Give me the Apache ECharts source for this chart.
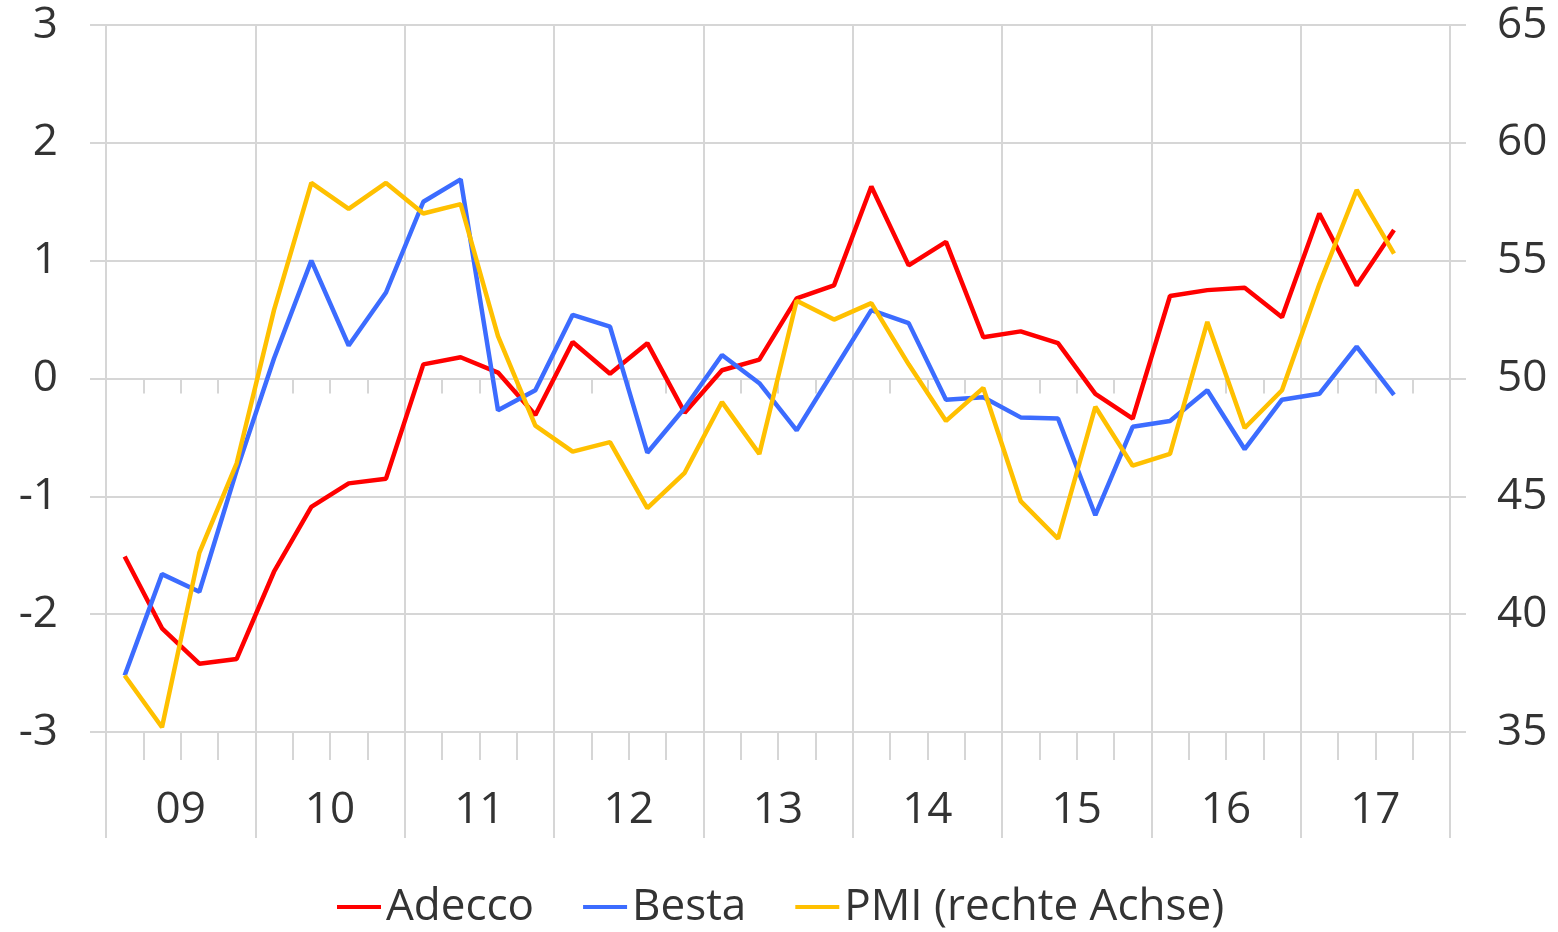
<!DOCTYPE html>
<html>
<head>
<meta charset="utf-8">
<title>Adecco, Besta, PMI</title>
<script src="https://cdn.jsdelivr.net/npm/echarts@6/dist/echarts.min.js"></script>
<style>
  html, body { margin: 0; padding: 0; background: #ffffff; }
  #chart { width: 1558px; height: 932px; }
</style>
</head>
<body>
<div id="chart"></div>
<script>
// Year labels of the category axis (one band per year, four quarters each)
const years = ['09', '10', '11', '12', '13', '14', '15', '16', '17'];
const quarters = [];
years.forEach(function (y) { for (let q = 1; q <= 4; q++) quarters.push(y + ' Q' + q); });

// Quarterly values, 2009 Q1 – 2017 Q3
const adecco = [-1.51, -2.12, -2.42, -2.38, -1.64, -1.09, -0.89, -0.85, 0.12, 0.18,
                0.05, -0.31, 0.31, 0.04, 0.30, -0.29, 0.07, 0.16, 0.68, 0.79,
                1.63, 0.96, 1.16, 0.35, 0.40, 0.30, -0.13, -0.34, 0.70, 0.75,
                0.77, 0.52, 1.40, 0.79, 1.26];
const besta = [-2.52, -1.66, -1.81, -0.78, 0.17, 1.00, 0.28, 0.73, 1.50, 1.69,
               -0.27, -0.10, 0.54, 0.44, -0.63, -0.25, 0.20, -0.04, -0.44, 0.07,
               0.58, 0.47, -0.18, -0.16, -0.33, -0.34, -1.16, -0.41, -0.36, -0.10,
               -0.60, -0.18, -0.13, 0.27, -0.14];
const pmi = [37.4, 35.2, 42.6, 46.4, 52.9, 58.3, 57.2, 58.3, 57.0, 57.4,
             51.8, 48.0, 46.9, 47.3, 44.5, 46.0, 49.0, 46.8, 53.3, 52.5,
             53.2, 50.6, 48.2, 49.6, 44.8, 43.2, 48.8, 46.3, 46.8, 52.4,
             47.9, 49.5, 54.0, 58.0, 55.3];

const seriesNames = ['Adecco', 'Besta', 'PMI (rechte Achse)'];
const seriesColors = ['#ff0000', '#3c6cff', '#ffc000'];

const GRID_COLOR = '#d6d6d6';
const TEXT_COLOR = '#333333';
const FONT = '"Open Sans", "Noto Sans", sans-serif';
const LINE_WIDTH = 4.5;

const chart = echarts.init(document.getElementById('chart'), null, { renderer: 'canvas' });

const gridLine = { lineStyle: { color: GRID_COLOR, width: 2 } };

chart.setOption({
  animation: false,
  backgroundColor: '#ffffff',
  textStyle: { fontFamily: FONT },
  grid: { left: 106, right: 108, top: 25, bottom: 200, containLabel: false },
  legend: {
    data: seriesNames,
    left: 337,
    top: 885,
    padding: 0,
    icon: 'rect',
    itemWidth: 44,
    itemHeight: 4,
    itemGap: 49,
    textStyle: { fontSize: 44, color: TEXT_COLOR, fontFamily: FONT, lineHeight: 44 }
  },
  xAxis: [
    {
      // quarter ticks along the zero line
      type: 'category',
      data: quarters,
      boundaryGap: true,
      position: 'bottom',
      axisLine: { show: true, onZero: true, lineStyle: { color: GRID_COLOR, width: 2 } },
      axisTick: { show: true, interval: 0, length: 15, lineStyle: { color: GRID_COLOR, width: 2 } },
      axisLabel: { show: false },
      splitLine: { show: false }
    },
    {
      // quarter ticks along the bottom edge
      type: 'category',
      data: quarters,
      boundaryGap: true,
      position: 'bottom',
      axisLine: { show: false, onZero: false },
      axisTick: { show: true, interval: 0, length: 28, lineStyle: { color: GRID_COLOR, width: 2 } },
      axisLabel: { show: false },
      splitLine: { show: false }
    },
    {
      // year bands with labels and separators
      type: 'category',
      data: years,
      boundaryGap: true,
      position: 'bottom',
      axisLine: { show: false, onZero: false },
      axisTick: { show: true, interval: 0, length: 106, lineStyle: { color: GRID_COLOR, width: 2 } },
      axisLabel: { show: true, interval: 0, margin: 56, fontSize: 44, color: TEXT_COLOR, fontFamily: FONT },
      splitLine: { show: true, interval: 0, lineStyle: { color: GRID_COLOR, width: 2 } }
    }
  ],
  yAxis: [
    {
      type: 'value',
      min: -3,
      max: 3,
      interval: 1,
      position: 'left',
      axisLine: { show: false },
      axisTick: { show: true, length: 16, lineStyle: { color: GRID_COLOR, width: 2 } },
      axisLabel: { margin: 48, fontSize: 44, color: TEXT_COLOR, fontFamily: FONT },
      splitLine: gridLine
    },
    {
      type: 'value',
      min: 35,
      max: 65,
      interval: 5,
      position: 'right',
      axisLine: { show: false },
      axisTick: { show: true, length: 16, lineStyle: { color: GRID_COLOR, width: 2 } },
      axisLabel: { margin: 47, fontSize: 44, color: TEXT_COLOR, fontFamily: FONT },
      splitLine: { show: false }
    }
  ],
  series: [
    {
      name: seriesNames[0], type: 'line', xAxisIndex: 0, yAxisIndex: 0,
      data: adecco, showSymbol: false, symbol: 'none',
      lineStyle: { color: seriesColors[0], width: LINE_WIDTH }, itemStyle: { color: seriesColors[0] }
    },
    {
      name: seriesNames[1], type: 'line', xAxisIndex: 0, yAxisIndex: 0,
      data: besta, showSymbol: false, symbol: 'none',
      lineStyle: { color: seriesColors[1], width: LINE_WIDTH }, itemStyle: { color: seriesColors[1] }
    },
    {
      name: seriesNames[2], type: 'line', xAxisIndex: 0, yAxisIndex: 1,
      data: pmi, showSymbol: false, symbol: 'none',
      lineStyle: { color: seriesColors[2], width: LINE_WIDTH }, itemStyle: { color: seriesColors[2] }
    }
  ]
});
</script>
</body>
</html>
